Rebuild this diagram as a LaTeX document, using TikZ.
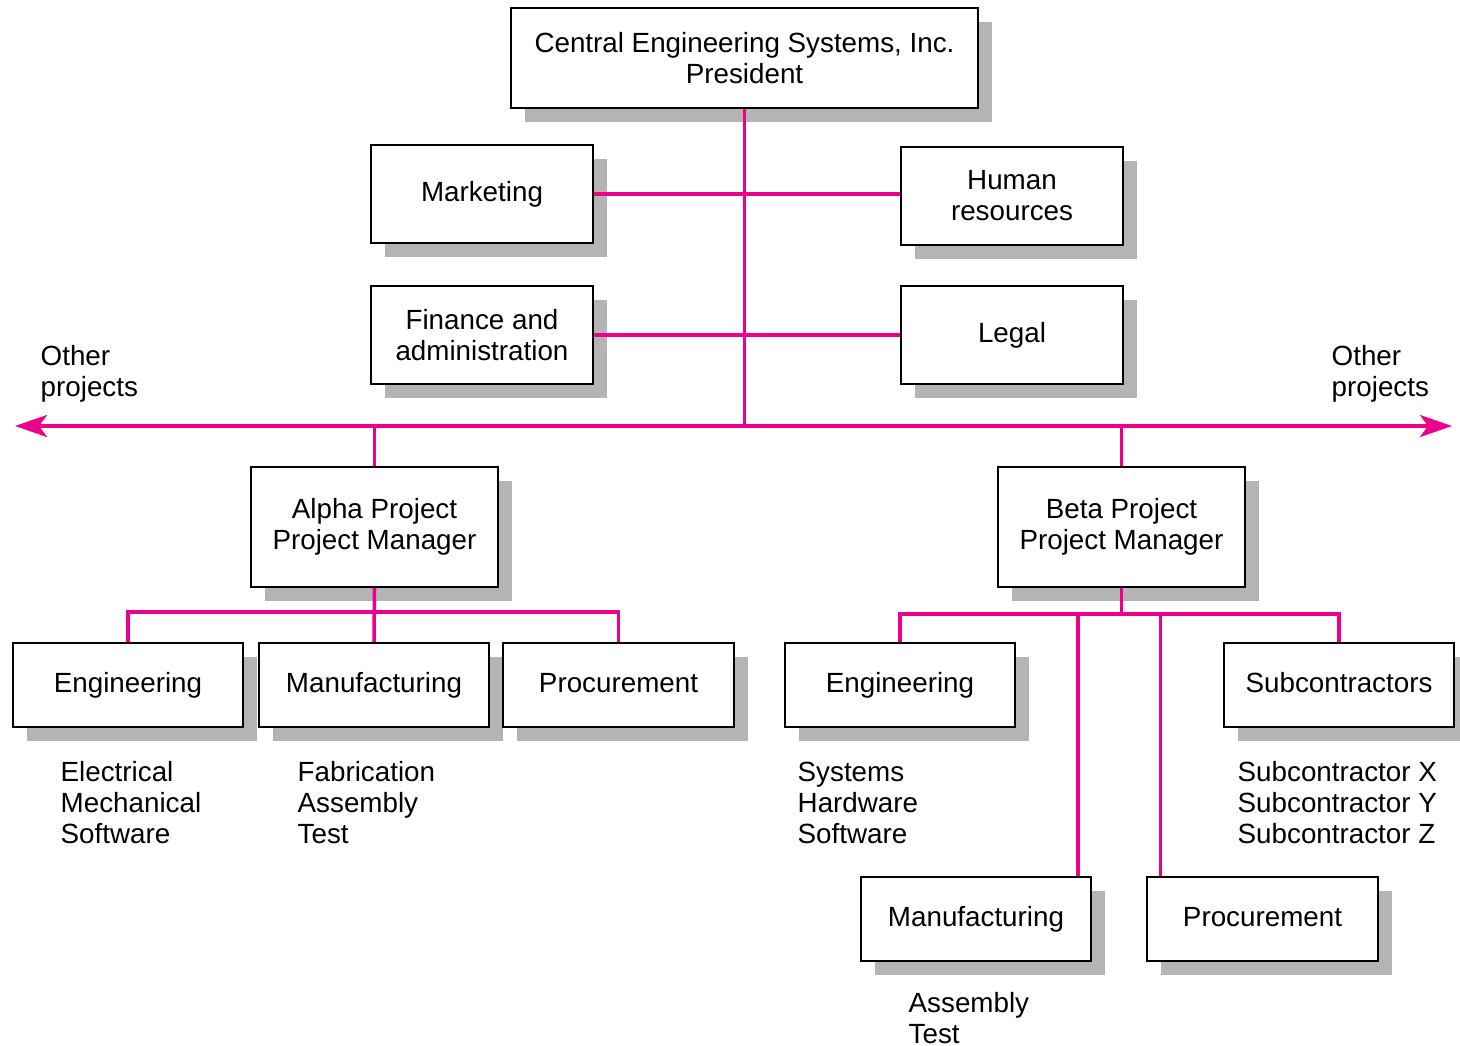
\documentclass[tikz,border=0pt]{standalone}
\usepackage{fontspec}
\setmainfont{Liberation Sans}
\usetikzlibrary{arrows.meta,shadows}
\definecolor{linkpink}{RGB}{236,0,140}
\definecolor{shadowgray}{RGB}{180,180,180}

\begin{document}
\begin{tikzpicture}[x=0.01cm,y=-0.01cm,
		every node/.style={font=\fontsize{7.9}{8.8}\selectfont},
		box/.style={draw,line width=0.6pt,fill=white,align=center,inner sep=0pt,
			drop shadow={shadow xshift=0.14cm,shadow yshift=-0.14cm,fill=shadowgray,opacity=1}},
		topbox/.style={box,minimum width=4.67cm,minimum height=1cm},
		staffbox/.style={box,minimum width=2.22cm,minimum height=0.98cm},
		projbox/.style={box,minimum width=2.47cm,minimum height=1.2cm},
		unitbox/.style={box,minimum width=2.3cm,minimum height=0.84cm,text height=6pt,text depth=1.7pt},
		list/.style={anchor=north west,align=left,inner sep=0pt},
		link/.style={linkpink,line width=1pt}]
		\useasboundingbox (0,0) rectangle (1460,1045);
		\node [topbox] (pres) at (744.5,58) {Central Engineering Systems, Inc.\\President};
		\node [staffbox] (mkt) at (482,194) {Marketing};
		\node [staffbox] (hr) at (1012,196) {Human\\resources};
		\node [staffbox] (fin) at (482,335) {Finance and\\administration};
		\node [staffbox] (legal) at (1012,335) {Legal};
		\node [list] (otherl) at (40,345) {Other\\projects};
		\node [list] (otherr) at (1331,345) {Other\\projects};
		\node [projbox] (alpha) at (374.5,527) {Alpha Project\\Project Manager};
		\node [projbox] (beta) at (1121.5,527) {Beta Project\\Project Manager};
		\node [unitbox] (aeng) at (128,685) {Engineering};
		\node [unitbox] (amfg) at (374,685) {Manufacturing};
		\node [unitbox] (apro) at (618.5,685) {Procurement};
		\node [unitbox] (beng) at (900,685) {Engineering};
		\node [unitbox] (bsub) at (1339,685) {Subcontractors};
		\node [unitbox] (bmfg) at (976,919) {Manufacturing};
		\node [unitbox] (bpro) at (1262.5,919) {Procurement};
		\node [list] (aengl) at (60,761) {Electrical\\Mechanical\\Software};
		\node [list] (amfgl) at (297,761) {Fabrication\\Assembly\\Test};
		\node [list] (bengl) at (797,761) {Systems\\Hardware\\Software};
		\node [list] (bsubl) at (1237,761) {Subcontractor X\\Subcontractor Y\\Subcontractor Z};
		\node [list] (bmfgl) at (908,992) {Assembly\\Test};
		% project bus
		\coordinate (busl) at (15,426);
		\coordinate (busr) at (1452,426);
		\coordinate (abus) at (0,612);
		\coordinate (bbus) at (0,614);
		\draw [link,{Stealth[length=0.32cm,width=0.22cm,inset=0.08cm]}-{Stealth[length=0.32cm,width=0.22cm,inset=0.08cm]}] (busl) -- (busr);
		\draw [link] (pres.south) -- (pres.south |- busl);
		\draw [link] (mkt.east) -- (mkt.east -| hr.west);
		\draw [link] (fin.east) -- (legal.west);
		\draw [link] (alpha.north) -- (alpha.north |- busl);
		\draw [link] (beta.north) -- (beta.north |- busl);
		% alpha units
		\draw [link] (alpha.south) -- (amfg.north);
		\draw [link] (aeng.north) -- (aeng.north |- abus) -| (apro.north);
		% beta units
		\draw [link] (beta.south) -- (beta.south |- bbus);
		\draw [link] (beng.north) -- (beng.north |- bbus) -| (bsub.north);
		\draw [link] ([xshift=-0.14cm]bmfg.north east) -- +(0,-263);
		\draw [link] ([xshift=0.14cm]bpro.north west) -- +(0,-263);
	\end{tikzpicture}
\end{document}
